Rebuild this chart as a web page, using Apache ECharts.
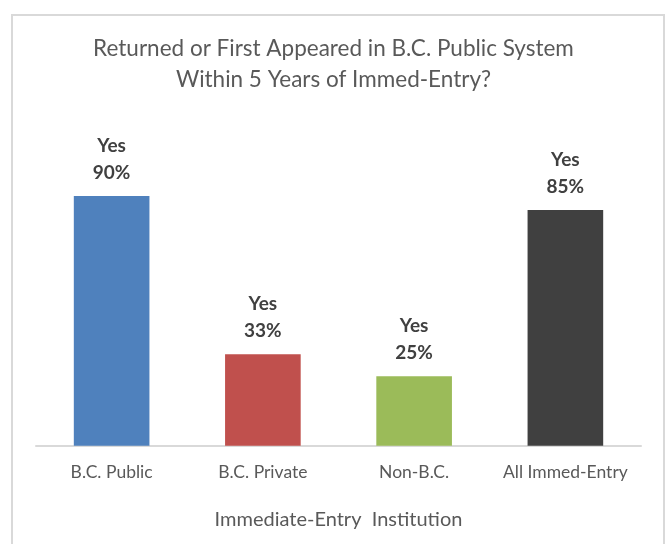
<!DOCTYPE html>
<html>
<head>
<meta charset="utf-8">
<script src="https://cdn.jsdelivr.net/npm/echarts@6/dist/echarts.min.js"></script>
<style>
html,body{margin:0;padding:0;background:#fff;}
#chart{width:667px;height:544px;}
</style>
</head>
<body>
<div id="chart"></div>
<script>
const titleLines = ["Returned or First Appeared in B.C. Public System", "Within 5 Years of Immed-Entry?"];
const categories = ["B.C. Public", "B.C. Private", "Non-B.C.", "All Immed-Entry"];
const values = [90, 33, 25, 85];
const labelPrefix = ["Yes", "Yes", "Yes", "Yes"];
const colors = ["#4F81BD", "#C0504D", "#9BBB59", "#404040"];
const xAxisName = "Immediate-Entry  Institution";

const FONT = "Lato";
const chart = echarts.init(document.getElementById('chart'), null, {renderer: 'canvas'});
chart.setOption({
  animation: false,
  backgroundColor: '#ffffff',
  graphic: [{
    type: 'rect', silent: true, z: -1,
    shape: {x: 12, y: 15, width: 652, height: 560},
    style: {fill: '#ffffff', stroke: '#d9d9d9', lineWidth: 2}
  }],
  title: {
    text: titleLines.join('\n'),
    left: 'center', top: 28,
    textStyle: {fontFamily: FONT, fontSize: 22.5, fontWeight: 'normal', color: '#595959', lineHeight: 31}
  },
  grid: {left: 36, right: 26, top: 168.3, bottom: 98.3, containLabel: false},
  xAxis: {
    type: 'category',
    data: categories,
    axisLine: {lineStyle: {color: '#d9d9d9', width: 2}},
    axisTick: {show: false},
    axisLabel: {interval: 0, hideOverlap: false, fontFamily: FONT, fontSize: 17.5, color: '#595959', margin: 18},
    name: xAxisName,
    nameLocation: 'middle',
    nameGap: 64,
    nameTextStyle: {fontFamily: FONT, fontSize: 20, color: '#595959'}
  },
  yAxis: {
    type: 'value', min: 0, max: 100,
    show: false,
    splitLine: {show: false}
  },
  series: [{
    type: 'bar',
    barWidth: '50%',
    data: values.map((v, i) => ({value: v, itemStyle: {color: colors[i]}})),
    label: {
      show: true, position: 'top', distance: 10,
      formatter: p => labelPrefix[p.dataIndex] + '\n' + p.value + '%',
      fontFamily: FONT, fontSize: 19, fontWeight: 'bold', color: '#404040', lineHeight: 27
    }
  }]
});
</script>
</body>
</html>
